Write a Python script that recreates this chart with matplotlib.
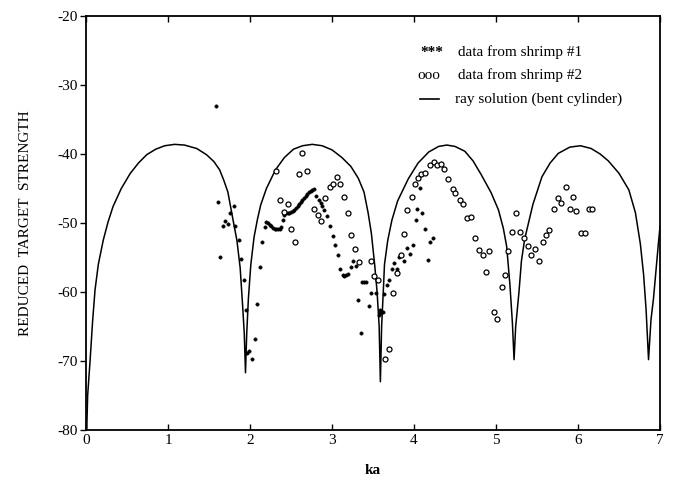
import matplotlib
matplotlib.use('Agg')
import matplotlib.pyplot as plt

# ray solution (bent cylinder)
ray_ka = [0.0, 0.02, 0.05, 0.08, 0.11, 0.15, 0.21, 0.27, 0.33, 0.43, 0.54, 0.64, 0.74,
          0.85, 0.96, 1.08, 1.20, 1.35, 1.47, 1.56, 1.63, 1.68, 1.73, 1.80, 1.84, 1.88,
          1.91, 1.93, 1.945, 1.96, 1.98, 2.01, 2.05, 2.09, 2.13, 2.20, 2.31, 2.42, 2.53,
          2.64, 2.76, 2.88, 3.00, 3.12, 3.23, 3.32, 3.39, 3.44, 3.48, 3.52, 3.55, 3.575,
          3.59, 3.605, 3.625, 3.64, 3.68, 3.73, 3.80, 3.93, 4.05, 4.18, 4.30, 4.40, 4.50,
          4.62, 4.72, 4.82, 4.94, 5.03, 5.09, 5.13, 5.17, 5.20, 5.22, 5.24, 5.28, 5.31,
          5.35, 5.45, 5.56, 5.66, 5.76, 5.90, 6.03, 6.16, 6.27, 6.37, 6.50, 6.62, 6.70,
          6.76, 6.80, 6.83, 6.86, 6.89, 6.92, 6.95, 6.98, 7.0]
ray_ts = [-84.0, -75.0, -69.9, -64.3, -59.7, -56.0, -52.5, -49.8, -47.6, -45.0, -42.8, -41.3, -40.1,
          -39.3, -38.8, -38.6, -38.7, -39.2, -40.1, -41.1, -42.3, -43.8, -45.5, -50.0, -52.5, -56.5,
          -62.0, -66.0, -71.7, -66.0, -61.0, -56.0, -52.0, -49.5, -47.4, -45.0, -42.3, -40.5, -39.3,
          -38.8, -38.6, -38.8, -39.4, -40.5, -41.8, -43.5, -45.5, -48.5, -51.5, -56.0, -60.0, -65.0,
          -73.0, -65.0, -60.0, -56.0, -52.5, -49.6, -46.8, -43.6, -41.3, -39.7, -38.9, -38.7, -38.9,
          -39.6, -41.0, -43.0, -45.6, -48.1, -50.8, -53.4, -59.0, -64.5, -69.8, -65.0, -60.0, -55.5,
          -52.3, -47.3, -43.3, -41.3, -39.9, -39.0, -38.8, -39.2, -40.0, -41.0, -42.8, -45.2, -48.5,
          -53.0, -57.5, -62.5, -69.8, -64.0, -61.0, -57.0, -53.0, -50.5]

# data from shrimp #1 (dots)
s1_ka = [1.58, 1.61, 1.64, 1.67, 1.70, 1.73, 1.76, 1.80, 1.82, 1.86, 1.89, 1.93, 1.95, 1.96,
         1.99, 2.03, 2.06, 2.09, 2.12, 2.15, 2.18,
         2.20, 2.22, 2.24, 2.26, 2.28, 2.30, 2.32, 2.34, 2.36, 2.38, 2.40, 2.42, 2.44, 2.46,
         2.48, 2.50, 2.52, 2.54, 2.56, 2.58, 2.60, 2.62, 2.64, 2.66, 2.68, 2.70, 2.72, 2.74,
         2.76, 2.78, 2.81, 2.84, 2.86, 2.88, 2.90, 2.94, 2.97, 3.01, 3.04, 3.07, 3.10, 3.13,
         3.15, 3.17, 3.19, 3.23, 3.26, 3.29, 3.32, 3.35, 3.37, 3.39, 3.41, 3.45, 3.47, 3.54,
         3.57, 3.58, 3.59, 3.62, 3.63, 3.67, 3.70, 3.73, 3.76, 3.79, 3.82, 3.88, 3.92, 3.95,
         3.99, 4.02, 4.04, 4.07, 4.10, 4.13, 4.17, 4.19, 4.23]
s1_ts = [-33.0, -47.0, -54.9, -50.4, -49.7, -50.1, -48.6, -47.5, -50.4, -52.5, -55.2, -58.2, -62.6, -68.9,
         -68.5, -69.7, -66.8, -61.8, -56.4, -52.8, -50.6,
         -49.8, -50.0, -50.3, -50.5, -50.7, -50.8, -50.9, -50.9, -50.8, -50.6, -49.6, -48.9, -48.6, -48.5,
         -48.5, -48.4, -48.3, -48.1, -47.8, -47.5, -47.2, -47.0, -46.7, -46.4, -46.1, -45.8, -45.5, -45.3,
         -45.2, -45.1, -46.1, -46.6, -47.1, -47.6, -48.1, -49.0, -50.4, -51.9, -53.2, -54.7, -56.6, -57.6,
         -57.7, -57.5, -57.4, -56.4, -55.5, -56.2, -61.1, -65.9, -58.6, -58.6, -58.5, -62.0, -60.2, -60.2,
         -63.3, -63.1, -62.6, -62.9, -60.3, -59.0, -58.2, -56.7, -55.8, -56.7, -54.9, -55.5, -53.6, -54.5,
         -53.2, -49.6, -47.9, -44.9, -48.5, -50.9, -55.3, -52.7, -52.1]

# data from shrimp #2 (open circles)
s2_ka = [2.32, 2.37, 2.41, 2.46, 2.50, 2.55, 2.60, 2.64, 2.69, 2.78, 2.83, 2.87, 2.92, 2.97,
         3.01, 3.06, 3.10, 3.15, 3.19, 3.23, 3.28, 3.33, 3.47, 3.51, 3.56, 3.65, 3.70, 3.74,
         3.79, 3.84, 3.88, 3.92, 3.97, 4.01, 4.05, 4.09, 4.14, 4.19, 4.24, 4.28, 4.33, 4.37,
         4.42, 4.47, 4.50, 4.56, 4.60, 4.65, 4.69, 4.74, 4.79, 4.84, 4.88, 4.92, 4.97, 5.01,
         5.07, 5.11, 5.15, 5.20, 5.24, 5.29, 5.34, 5.39, 5.43, 5.48, 5.53, 5.57, 5.61, 5.65,
         5.71, 5.75, 5.79, 5.85, 5.90, 5.94, 5.98, 6.04, 6.08, 6.13, 6.17]
s2_ts = [-42.5, -46.6, -48.4, -47.3, -50.9, -52.7, -42.9, -39.8, -42.5, -47.9, -48.8, -49.7, -46.4, -44.8,
         -44.3, -43.4, -44.4, -46.3, -48.6, -51.8, -53.8, -55.7, -55.5, -57.7, -58.3, -69.7, -68.3, -60.1,
         -57.3, -54.7, -51.6, -48.1, -46.3, -44.3, -43.5, -42.9, -42.7, -41.6, -41.1, -41.6, -41.4, -42.2,
         -43.6, -45.1, -45.6, -46.6, -47.3, -49.3, -49.1, -52.1, -53.9, -54.7, -57.1, -54.1, -62.9, -63.9,
         -59.2, -57.6, -54.0, -51.3, -48.6, -51.3, -52.1, -53.4, -54.6, -53.7, -55.5, -52.8, -51.7, -51.0,
         -48.0, -46.4, -47.1, -44.8, -48.0, -46.3, -48.3, -51.5, -51.4, -48.0, -48.0]

xticks = [0, 1, 2, 3, 4, 5, 6, 7]
yticks = [-80, -70, -60, -50, -40, -30, -20]
legend_labels = ['data from shrimp #1', 'data from shrimp #2', 'ray solution (bent cylinder)']

plt.rcParams['font.family'] = ['Liberation Serif', 'DejaVu Serif']
plt.rcParams['axes.unicode_minus'] = False

fig = plt.figure(figsize=(6.73, 4.9), dpi=100)
ax = fig.add_axes([0.1278, 0.1224, 0.8529, 0.8449])

ax.plot(ray_ka, ray_ts, color='black', lw=1.1, solid_joinstyle='round')
ax.plot(s1_ka, s1_ts, ls='none', marker='o', ms=2.4, mfc='black', mec='black', mew=0.4)
ax.plot(s2_ka, s2_ts, ls='none', marker='o', ms=3.6, mfc='white', mec='black', mew=0.9)

ax.set_xlim(0, 7)
ax.set_ylim(-80, -20)
ax.set_xticks(xticks)
ax.set_yticks(yticks)
ax.tick_params(axis='both', labelsize=11, width=1.0, length=4)
ax.tick_params(axis='x', direction='in', top=True, pad=3)
ax.tick_params(axis='y', direction='out', pad=2)
for s in ax.spines.values():
    s.set_linewidth(1.3)

ax.set_xlabel('ka', fontsize=11, fontweight='bold', labelpad=12)
ax.set_ylabel('REDUCED  TARGET  STRENGTH', fontsize=11, labelpad=18)

# legend drawn as text, like the original
tr = ax.transAxes
ax.text(0.582, 0.912, '***', transform=tr, fontsize=11, fontweight='bold', va='center')
ax.text(0.578, 0.857, 'ooo', transform=tr, fontsize=11, va='center')
ax.plot([0.582, 0.615], [0.799, 0.799], transform=tr, color='black', lw=1.2)
ax.text(0.648, 0.912, legend_labels[0], transform=tr, fontsize=11, va='center')
ax.text(0.648, 0.857, legend_labels[1], transform=tr, fontsize=11, va='center')
ax.text(0.643, 0.799, legend_labels[2], transform=tr, fontsize=11, va='center')

plt.savefig('out.png', dpi=100)
